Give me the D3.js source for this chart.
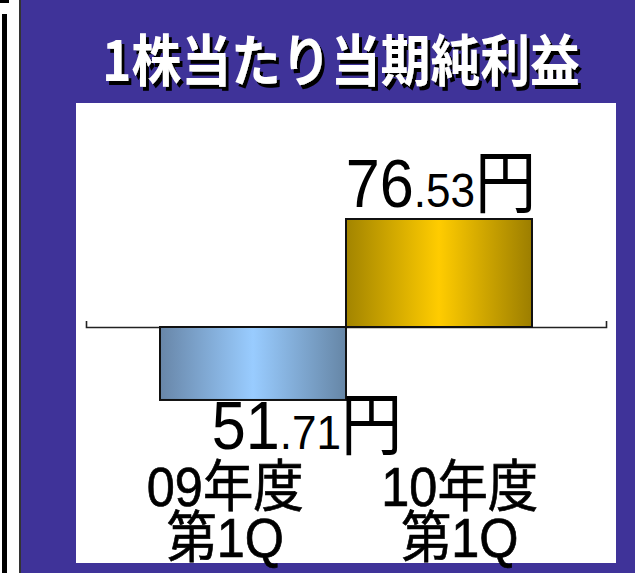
<!DOCTYPE html>
<html><head><meta charset="utf-8">
<script src="https://cdn.jsdelivr.net/npm/d3@7/dist/d3.min.js"></script>
<style>html,body{margin:0;padding:0;background:#fff;}svg{display:block;}</style>
</head><body>
<svg id="c" width="635" height="573"></svg>
<script>
const title = "1株当たり当期純利益";
const categories = ["09Q1", "10Q1"];
const catLine1 = ["09年度", "10年度"];
const catLine2 = ["第1Q", "第1Q"];
const values = [-51.71, 76.53];
const labelInt = ["51", "76"];
const labelDec = [".71", ".53"];
const unit = "円";

const svg = d3.select("#c");
const W = 635, H = 573;
const CJK = "'Noto Sans CJK JP', sans-serif";
const LAT = "'Liberation Sans', Arial, 'Noto Sans CJK JP', sans-serif";

// background frame
svg.append("rect").attr("x",0).attr("y",0).attr("width",W).attr("height",H).attr("fill","#ffffff");
svg.append("rect").attr("x",0).attr("y",0).attr("width",9).attr("height",3).attr("fill","#000");
svg.append("rect").attr("x",2).attr("y",14).attr("width",5).attr("height",H-14).attr("fill","#000");
svg.append("rect").attr("x",19).attr("y",0).attr("width",2).attr("height",H).attr("fill","#333");
svg.append("rect").attr("x",21).attr("y",0).attr("width",W-21).attr("height",H).attr("fill","#3f3399");
svg.append("rect").attr("x",76).attr("y",103).attr("width",540).attr("height",460).attr("fill","#ffffff");

const defs = svg.append("defs");
// drop shadow filter for title
const f = defs.append("filter").attr("id","shadow").attr("x","-5%").attr("y","-20%").attr("width","115%").attr("height","150%");
f.append("feOffset").attr("in","SourceAlpha").attr("dx",3).attr("dy",4).attr("result","off");
f.append("feFlood").attr("flood-color","#000").attr("result","col");
f.append("feComposite").attr("in","col").attr("in2","off").attr("operator","in").attr("result","sh");
const fm = f.append("feMerge");
fm.append("feMergeNode").attr("in","sh");
fm.append("feMergeNode").attr("in","SourceGraphic");

// title
const tMain = svg.append("text").attr("x",0).attr("y",0)
  .attr("font-family",CJK).attr("font-weight",700).attr("font-size",56)
  .attr("fill","#fff").attr("filter","url(#shadow)").text(title);
const tw = tMain.node().getComputedTextLength();
const tsx = 478 / tw;
tMain.attr("transform",`translate(102,81) scale(${tsx},1)`);

// scales
const x = d3.scaleBand().domain(categories).range([160, 532]).padding(0);
const y = d3.scaleLinear().domain([0, 76.53]).range([327, 219]);
const axisScale = d3.scaleBand().domain(categories).range([86, 606]);
const labelX = d3.scaleBand().domain(categories).range([108, 577]);

// gradients
function grad(id, edgeL, mid, edgeR){
  const g = defs.append("linearGradient").attr("id",id).attr("x1","0%").attr("x2","100%").attr("y1","0%").attr("y2","0%");
  g.append("stop").attr("offset","0%").attr("stop-color",edgeL);
  g.append("stop").attr("offset","50%").attr("stop-color",mid);
  g.append("stop").attr("offset","100%").attr("stop-color",edgeR);
}
grad("gNeg","#6886a8","#99ccff","#6686a6");
grad("gPos","#a28400","#ffcc00","#9c7e00");

// axis
const axis = d3.axisTop(axisScale).tickValues([]).tickSizeOuter(6);
const ag = svg.append("g").attr("transform",`translate(0,${y(0)})`).call(axis);
ag.select(".domain").attr("stroke","#222").attr("stroke-width",1.6);

// bars
svg.selectAll("rect.bar").data(values).enter().append("rect")
  .attr("class","bar")
  .attr("x",(d,i)=>x(categories[i]))
  .attr("width",x.bandwidth())
  .attr("y",d=>y(Math.max(0,d)))
  .attr("height",d=>Math.abs(y(d)-y(0)))
  .attr("fill",d=>d<0?"url(#gNeg)":"url(#gPos)")
  .attr("stroke","#111").attr("stroke-width",2);

// value labels
const labelDx = [54, 2];
values.forEach((d,i)=>{
  const cx = x(categories[i]) + x.bandwidth()/2 + labelDx[i];
  const by = d<0 ? y(d)+49 : y(d)-12;
  const t = svg.append("text").attr("text-anchor","middle")
    .attr("transform",`translate(${cx},${by}) scale(0.9,1)`)
    .attr("font-family",LAT).attr("fill","#000");
  t.append("tspan").attr("font-size",68).text(labelInt[i]);
  t.append("tspan").attr("font-size",49).text(labelDec[i]);
  t.append("tspan").attr("font-size",68).attr("font-family",CJK).text(unit);
});

// category labels (two lines in one text)
categories.forEach((c,i)=>{
  const cx = labelX(c) + labelX.bandwidth()/2;
  const t = svg.append("text").attr("text-anchor","middle")
    .attr("transform",`translate(${cx},506) scale(0.9,1)`)
    .attr("font-family",LAT).attr("font-size",56).attr("fill","#000")
    .attr("stroke","#000").attr("stroke-width",0.7);
  t.append("tspan").attr("x",0).attr("y",0).text(catLine1[i]);
  t.append("tspan").attr("x",0).attr("y",51).text(catLine2[i]);
});
</script>
</body></html>
